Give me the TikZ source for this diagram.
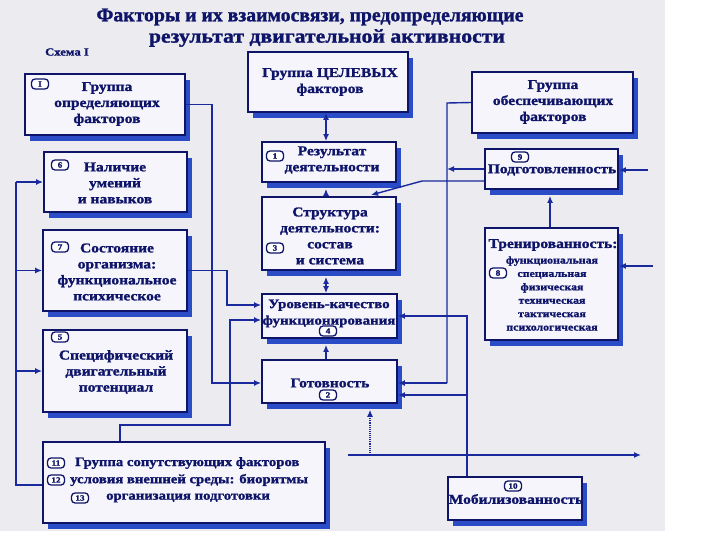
\documentclass[tikz,border=0pt]{standalone}
\usepackage{fontspec}
\setmainfont{Liberation Serif}[FakeStretch=1.15, FakeBold=1.4]
\usetikzlibrary{arrows.meta,shadows,calc}
\definecolor{navy}{HTML}{0E1468}
\definecolor{shblue}{HTML}{2A4CC6}
\definecolor{boxfill}{HTML}{F5F5FB}
\definecolor{bg}{HTML}{EBEBF0}
\definecolor{lineblue}{HTML}{1A2A9C}
\begin{document}
\begin{tikzpicture}[x=1pt,y=-1pt,
  box/.style={draw=navy, line width=1.8pt, fill=boxfill, inner sep=0pt,
    general shadow={fill=shblue, shadow xshift=5pt, shadow yshift=-6pt}},
  txt/.style={font=\bfseries\fontsize{13.5}{16}\selectfont, text=navy, align=center, inner sep=0pt},
  small/.style={font=\bfseries\fontsize{10.3}{13.4}\selectfont, text=navy, align=center, inner sep=0pt},
  ttl/.style={font=\bfseries\fontsize{19.5}{21}\selectfont, text=navy, inner sep=0pt},
  badge/.style={draw=navy, line width=1.3pt, rounded corners=3.5pt, fill=white,
    font=\bfseries\fontsize{8}{8}\selectfont, text=navy, minimum width=17pt, minimum height=10pt, inner sep=0pt},
  conn/.style={draw=lineblue, line width=1.4pt},
  arr/.style={-{Latex[length=7pt,width=6pt]}},
  barr/.style={{Latex[length=7pt,width=6pt]}-{Latex[length=7pt,width=6pt]}}
]
\fill[white] (0,0) rectangle (720,540);
\fill[bg] (0,0) rectangle (665,531);
\useasboundingbox (0,0) rectangle (720,540);

% title
\node[ttl] (title1) at (310,17) {\scalebox{0.88}[1]{Факторы и их взаимосвязи, предопределяющие}};
\node[ttl] (title2) at (327,38) {\scalebox{0.97}[1]{результат двигательной активности}};
\node[font=\bfseries\fontsize{11}{11}\selectfont, text=navy, inner sep=0pt] (schema) at (67,52) {Схема I};

% boxes
\node[box, minimum width=160pt, minimum height=61pt] (opr) at (105,104.5) {};
\node[box, minimum width=143pt, minimum height=60pt] (nal) at (115.5,182) {};
\node[box, minimum width=144pt, minimum height=81pt] (sost) at (115,270.5) {};
\node[box, minimum width=144pt, minimum height=82pt] (spec) at (115,371) {};
\node[box, minimum width=282pt, minimum height=81pt] (sop) at (184,482.5) {};
\node[box, minimum width=160pt, minimum height=60pt] (cel) at (328,82) {};
\node[box, minimum width=134pt, minimum height=40pt] (res) at (329,162) {};
\node[box, minimum width=134pt, minimum height=73pt] (str) at (329,233.5) {};
\node[box, minimum width=135pt, minimum height=44pt] (urov) at (329.5,316) {};
\node[box, minimum width=135pt, minimum height=43pt] (got) at (329.5,381.5) {};
\node[box, minimum width=161pt, minimum height=61pt] (obes) at (552.5,102.5) {};
\node[box, minimum width=133pt, minimum height=40pt] (podg) at (551.5,169) {};
\node[box, minimum width=133pt, minimum height=112pt] (tren) at (551.5,284) {};
\node[box, minimum width=134pt, minimum height=43pt] (mob) at (515,498.5) {};

% helper coordinates
\coordinate (c326) at (326,0);
\coordinate (c370) at (370,0);
\coordinate (c447) at (447,103);
\coordinate (j447) at (447,383);
\coordinate (c467) at (467,0);
\coordinate (g395) at (467,395);
\coordinate (strT) at (371,195);
\coordinate (axL) at (348,455);
\coordinate (axR) at (641,455);
\coordinate (inP) at (648,170);
\coordinate (inT) at (653,266);
\coordinate (c550) at (550,0);
\coordinate (l383) at (212,383);
\coordinate (k1) at (227,305);
\coordinate (k0) at (120,0);
\coordinate (k2a) at (230,425);
\coordinate (k2b) at (230,320);
\coordinate (bus) at (16,485);
\coordinate (busT) at (16,182);

% connectors
\draw[conn,barr] (cel.south -| c326) -- (res.north -| c326);
\draw[conn,arr] (str.north -| c326) -- ($(res.south -| c326)+(0,6)$);
\draw[conn,barr] ($(str.south -| c326)+(0,6)$) -- (urov.north -| c326);
\draw[conn,arr] (got.north -| c326) -- ($(urov.south -| c326)+(0,6)$);
\draw[conn] (obes.west) -- (c447) -- (j447);
\draw[conn,arr] (j447) -- (got.east |- j447);
\draw[conn,arr] (podg.west) -- (c447 |- podg.west);
\draw[conn,arr] ($(podg.west)+(0,12)$) -- ++(-62,0) -- (strT);
\draw[conn,arr] (mob.north -| c467) |- (urov.east);
\draw[conn,arr] (g395) -- (got.east |- g395);
\draw[lineblue, line width=1.1pt, densely dotted, arr] (axL -| c370) -- ($(got.south -| c370)+(0,6)$);
\draw[conn,arr] (axL) -- (axR);
\draw[conn,arr] (inP) -- (podg.east |- inP);
\draw[conn,arr] (inT) -- (tren.east |- inT);
\draw[conn,arr] (tren.north -| c550) -- ($(podg.south -| c550)+(0,6)$);
\draw[conn,arr] (opr.east) -| (l383) -- (got.west |- l383);
\draw[conn,arr] (sost.east) -| (k1) -- (urov.west |- k1);
\draw[conn,arr] (sop.north -| k0) |- (k2a) -- (k2b) -- (urov.west |- k2b);
\draw[conn] (sop.west |- bus) -- (bus) -- (busT);
\draw[conn,arr] (busT) -- (nal.west |- busT);
\draw[conn,arr] (bus |- sost.west) -- (sost.west);
\draw[conn,arr] (bus |- spec.west) -- (spec.west);

% texts
\node[txt] (topr) at (107,104) {Группа\\определяющих\\факторов};
\node[txt] (tnal) at (115,183) {Наличие\\умений\\и навыков};
\node[txt] (tsost) at (117,272) {Состояние\\организма:\\функциональное\\психическое};
\node[txt] (tspec) at (116,372) {Специфический\\двигательный\\потенциал};
\node[txt] (tcel) at (330,82) {Группа ЦЕЛЕВЫХ\\факторов};
\node[txt] (tres) at (332,160) {Результат\\деятельности};
\node[txt] (tstr) at (330,236) {Структура\\деятельности:\\состав\\и система};
\node[txt, font=\bfseries\fontsize{13}{16.5}\selectfont] (turov) at (329,313.5) {Уровень-качество\\функционирования};
\node[txt] (tgot) at (330,383) {Готовность};
\node[txt] (tobes) at (553,102) {Группа\\обеспечивающих\\факторов};
\node[txt] (tpodg) at (552,170) {Подготовленность};
\node[txt] (ttren) at (553,245) {Тренированность:};
\node[small] (ttren2) at (552,293.5) {функциональная\\специальная\\физическая\\техническая\\тактическая\\психологическая};
\node[txt] (tmob) at (516,499) {Мобилизованность};
\node[txt, anchor=west, font=\bfseries\fontsize{12.8}{16}\selectfont] (tsop1) at (75,463) {Группа сопутствующих факторов};
\node[txt, anchor=west, font=\bfseries\fontsize{12.8}{16}\selectfont] (tsop2) at (70,480) {условия внешней среды: биоритмы};
\node[txt, anchor=west, font=\bfseries\fontsize{12.8}{16}\selectfont] (tsop3) at (106,498) {организация подготовки};

% badges
\node[badge] (bopr) at (40,84) {I};
\node[badge] (bnal) at (60,165) {6};
\node[badge] (bsost) at (60,247) {7};
\node[badge] (bspec) at (60,337) {5};
\node[badge] (bres) at (275,156) {1};
\node[badge] (bstr) at (275,248) {3};
\node[badge] (burov) at (328,331) {4};
\node[badge] (bgot) at (328,395) {2};
\node[badge] (bpodg) at (520,157) {9};
\node[badge] (btren) at (498,273) {8};
\node[badge] (bmob) at (513,486) {10};
\node[badge] (bsop1) at (56,463) {11};
\node[badge] (bsop2) at (56,480) {12};
\node[badge] (bsop3) at (80,498) {13};
\end{tikzpicture}
\end{document}
